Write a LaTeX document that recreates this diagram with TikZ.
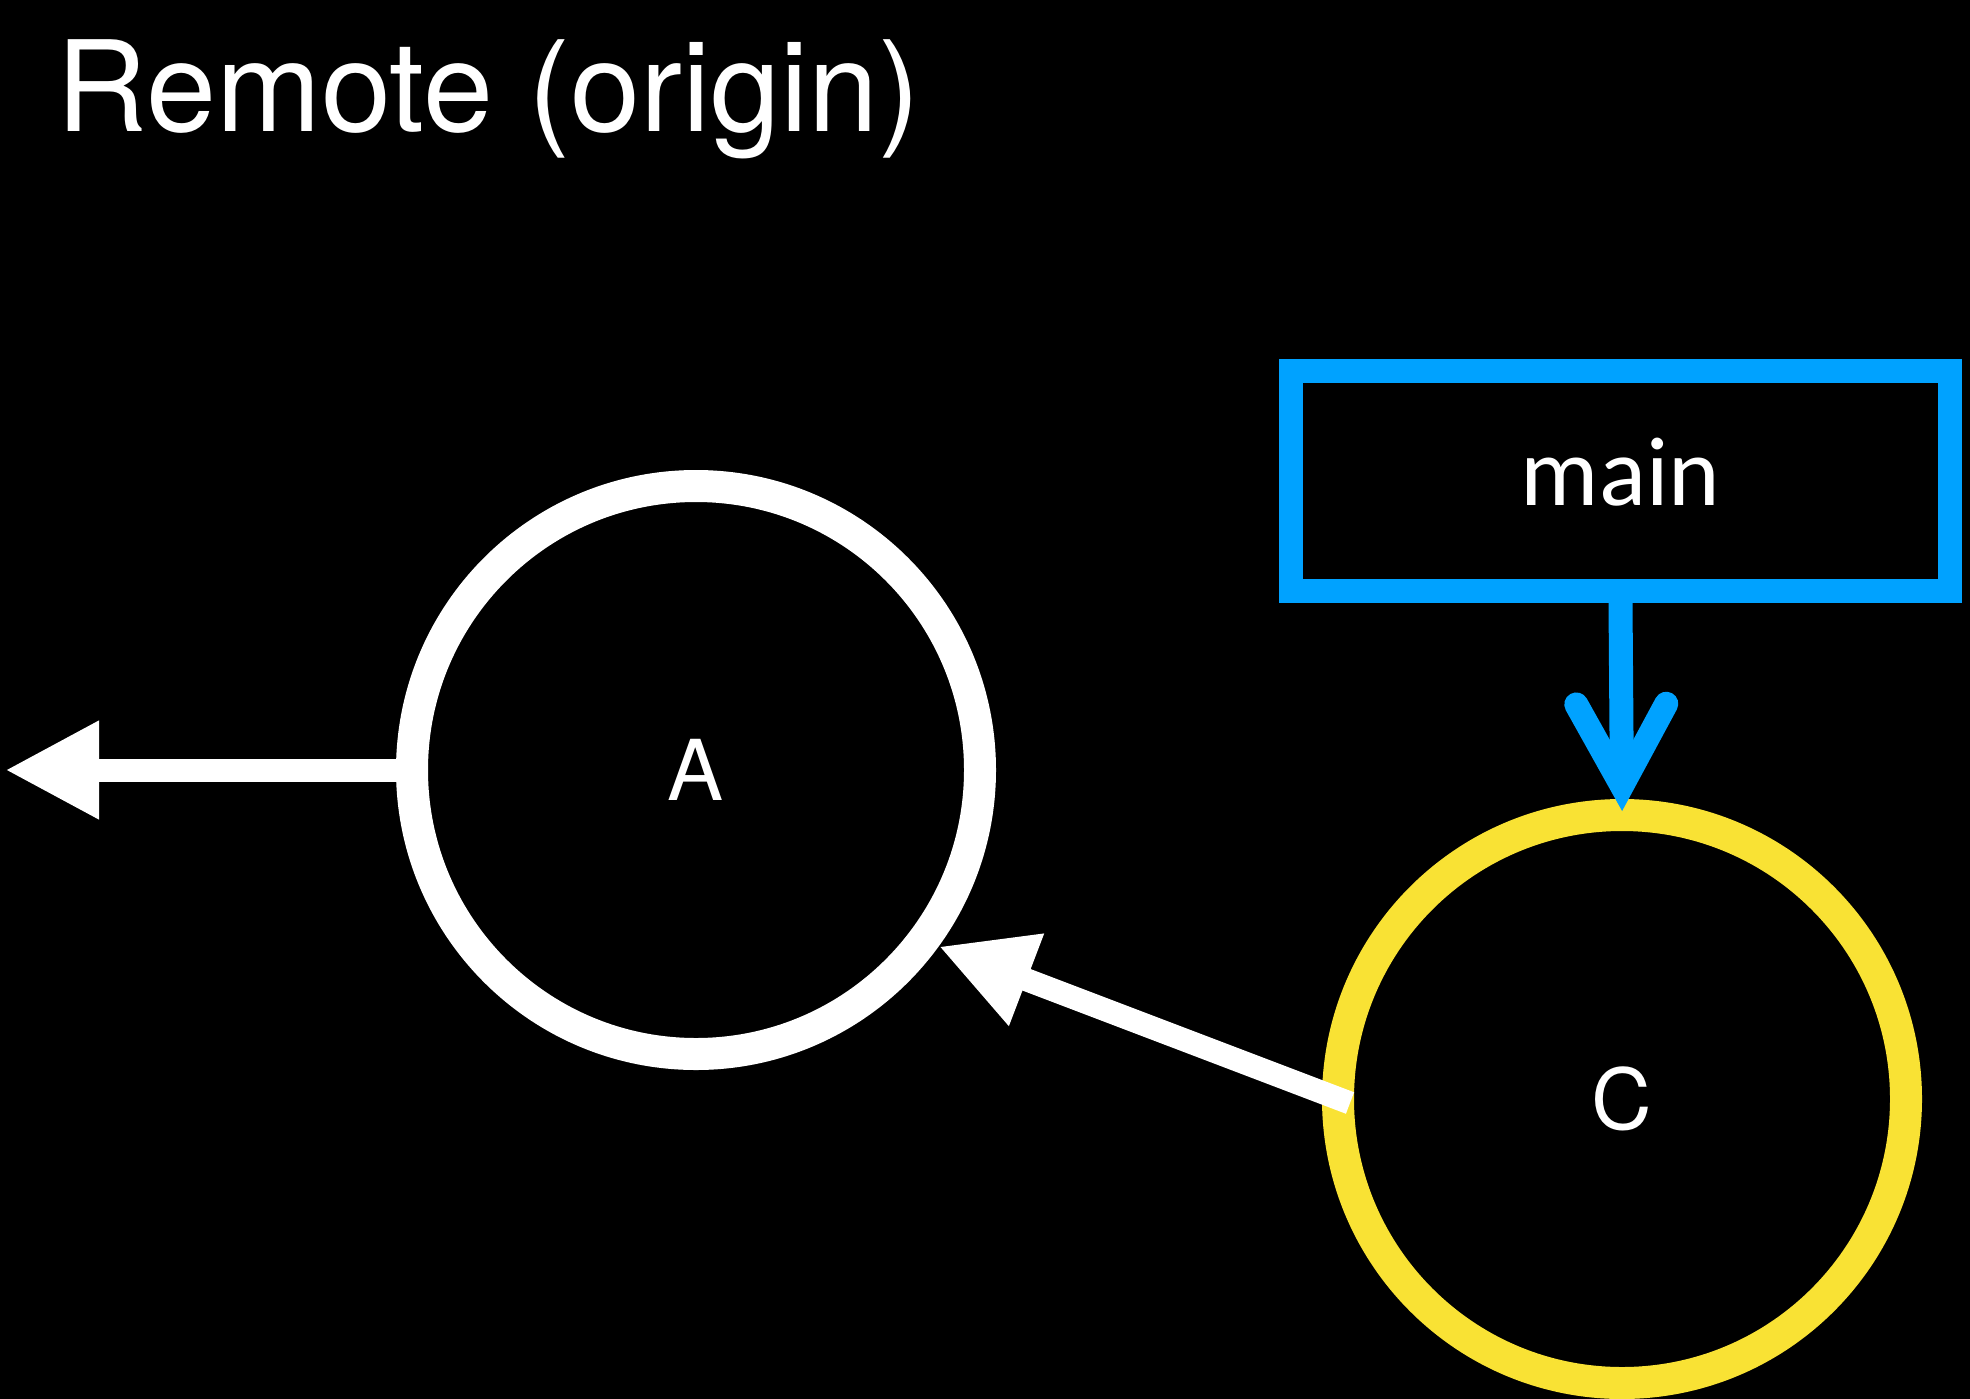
\documentclass[tikz,border=0pt]{standalone}
\usepackage{fontspec}
\setmainfont{TeX Gyre Heros}
\newfontfamily\carlito{Carlito}
\usetikzlibrary{arrows.meta}
\definecolor{gitblue}{RGB}{0,162,255}
\definecolor{gityellow}{RGB}{249,226,52}

\begin{document}
\begin{tikzpicture}[x=0.5pt, y=-0.5pt,
  commit/.style={circle, draw=white, line width=16pt, minimum size=284pt, inner sep=0pt, text=white, font=\fontsize{42}{42}\selectfont},
  branch/.style={rectangle, draw=gitblue, line width=12pt, minimum width=329.5pt, minimum height=110pt, inner sep=0pt, text=white, text height=24pt, text depth=0pt, font=\carlito\fontsize{49}{49}\selectfont},
  parent/.style={white, line width=11.5pt, -{Triangle[length=47pt, width=46pt]}},
  ref/.style={gitblue, line width=12pt, -{Straight Barb[length=41pt, width=45pt, line cap=round, line join=miter]}}]
  \useasboundingbox (0,0) rectangle (1970,1398);
  \fill[black] (-10,-10) rectangle (1980,1408);

  \node[anchor=base west, inner sep=0pt, text=white, font=\fontsize{63}{63}\selectfont] (title) at (56,131) {Remote (origin)};

  \node[commit] (A) at (696,770) {A};
  \node[commit, draw=gityellow] (C) at (1622,1099) {C};
  \node[branch] (main) at (1620.5,481) {main};
  \coordinate (up) at (5,770);

  \draw[parent] (A.west) -- (up);
  \draw[parent] ([xshift=14pt, yshift=-2pt]C.180) -- (A.-36.5);
  \draw[ref, shorten >=-6pt] (main.south) -- (C.north);
\end{tikzpicture}
\end{document}
